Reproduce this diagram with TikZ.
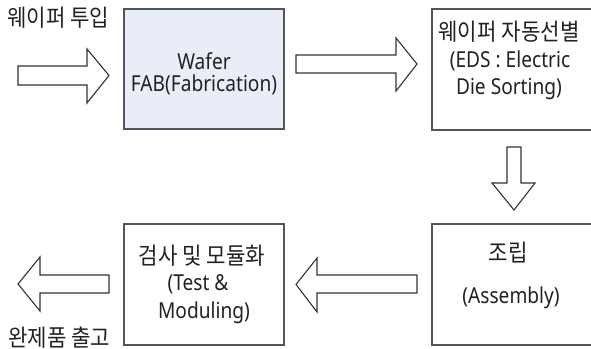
\documentclass[tikz,border=0pt]{standalone}
\usepackage{fontspec}
\setmainfont{Noto Sans}[FakeStretch=0.87]
\newfontfamily\kr{Noto Sans CJK KR}[FakeStretch=0.9]
\newcommand{\krtext}[1]{{\kr\fontsize{23.5}{28}\selectfont #1}}
\definecolor{boxblue}{HTML}{E9EDF8}
\definecolor{edgegray}{HTML}{555555}
\definecolor{arrowgray}{HTML}{333333}
\definecolor{inkgray}{HTML}{222222}
\tikzset{
  stagebox/.style={draw=edgegray, line width=1.4pt, rectangle, inner sep=0pt},
  txt/.style={anchor=base, inner sep=0pt, text=inkgray,
    font=\fontsize{22}{26}\selectfont},
  blockarrow/.style={draw=arrowgray, fill=white, line width=1.1pt, line join=miter}
}
\begin{document}
\begin{tikzpicture}[x=1pt,y=-1pt]
\useasboundingbox (0,0) rectangle (591,348);
\clip (0,0) rectangle (591,348);

% process stages
\node[stagebox, fill=boxblue, minimum width=160pt, minimum height=120pt] (fab) at (204,69) {};
\node[stagebox, fill=white, minimum width=163pt, minimum height=121pt] (eds) at (513.5,69.5) {};
\node[stagebox, fill=white, minimum width=163pt, minimum height=121pt] (asm) at (513.5,284.5) {};
\node[stagebox, fill=white, minimum width=160pt, minimum height=121pt] (test) at (204,284.5) {};

% stage labels
\node[txt] (fab1) at (204,69) {Wafer};
\node[txt] (fab2) at (204,91) {FAB(Fabrication)};

\node[txt] (eds1) at (509,40.5) {\krtext{웨이퍼 자동선별}};
\node[txt] (eds2) at (510,67) {(EDS : Electric};
\node[txt] (eds3) at (509,94.5) {Die Sorting)};

\node[txt] (asm1) at (508,261.5) {\krtext{조립}};
\node[txt] (asm2) at (511,303) {(Assembly)};

\node[txt] (test1) at (202,264) {\krtext{검사 및 모듈화}};
\node[txt] (test2) at (198,290.5) {(Test \&};
\node[txt] (test3) at (204,318.5) {Moduling)};

% input / output captions
\node[txt, anchor=base west] (inlbl) at (7,26) {\krtext{웨이퍼 투입}};
\node[txt, anchor=base west] (outlbl) at (8,346) {\krtext{완제품 출고}};

% block arrows of the flow
\draw[blockarrow] (18,66) -- (87,66) -- (87,49) -- (109,75.5) -- (87,103) -- (87,85) -- (18,85) -- cycle;
\draw[blockarrow] (296,55) -- (396,55) -- (396,38) -- (417,64) -- (396,91) -- (396,73) -- (296,73) -- cycle;
\draw[blockarrow] (507,147) -- (521,147) -- (521,183) -- (535,183) -- (514,210) -- (492,183) -- (507,183) -- cycle;
\draw[blockarrow] (417,275) -- (317,275) -- (317,258) -- (296,284.5) -- (317,312) -- (317,293) -- (417,293) -- cycle;
\draw[blockarrow] (109,275) -- (40,275) -- (40,257) -- (18,284) -- (40,311) -- (40,293) -- (109,293) -- cycle;
\end{tikzpicture}
\end{document}
